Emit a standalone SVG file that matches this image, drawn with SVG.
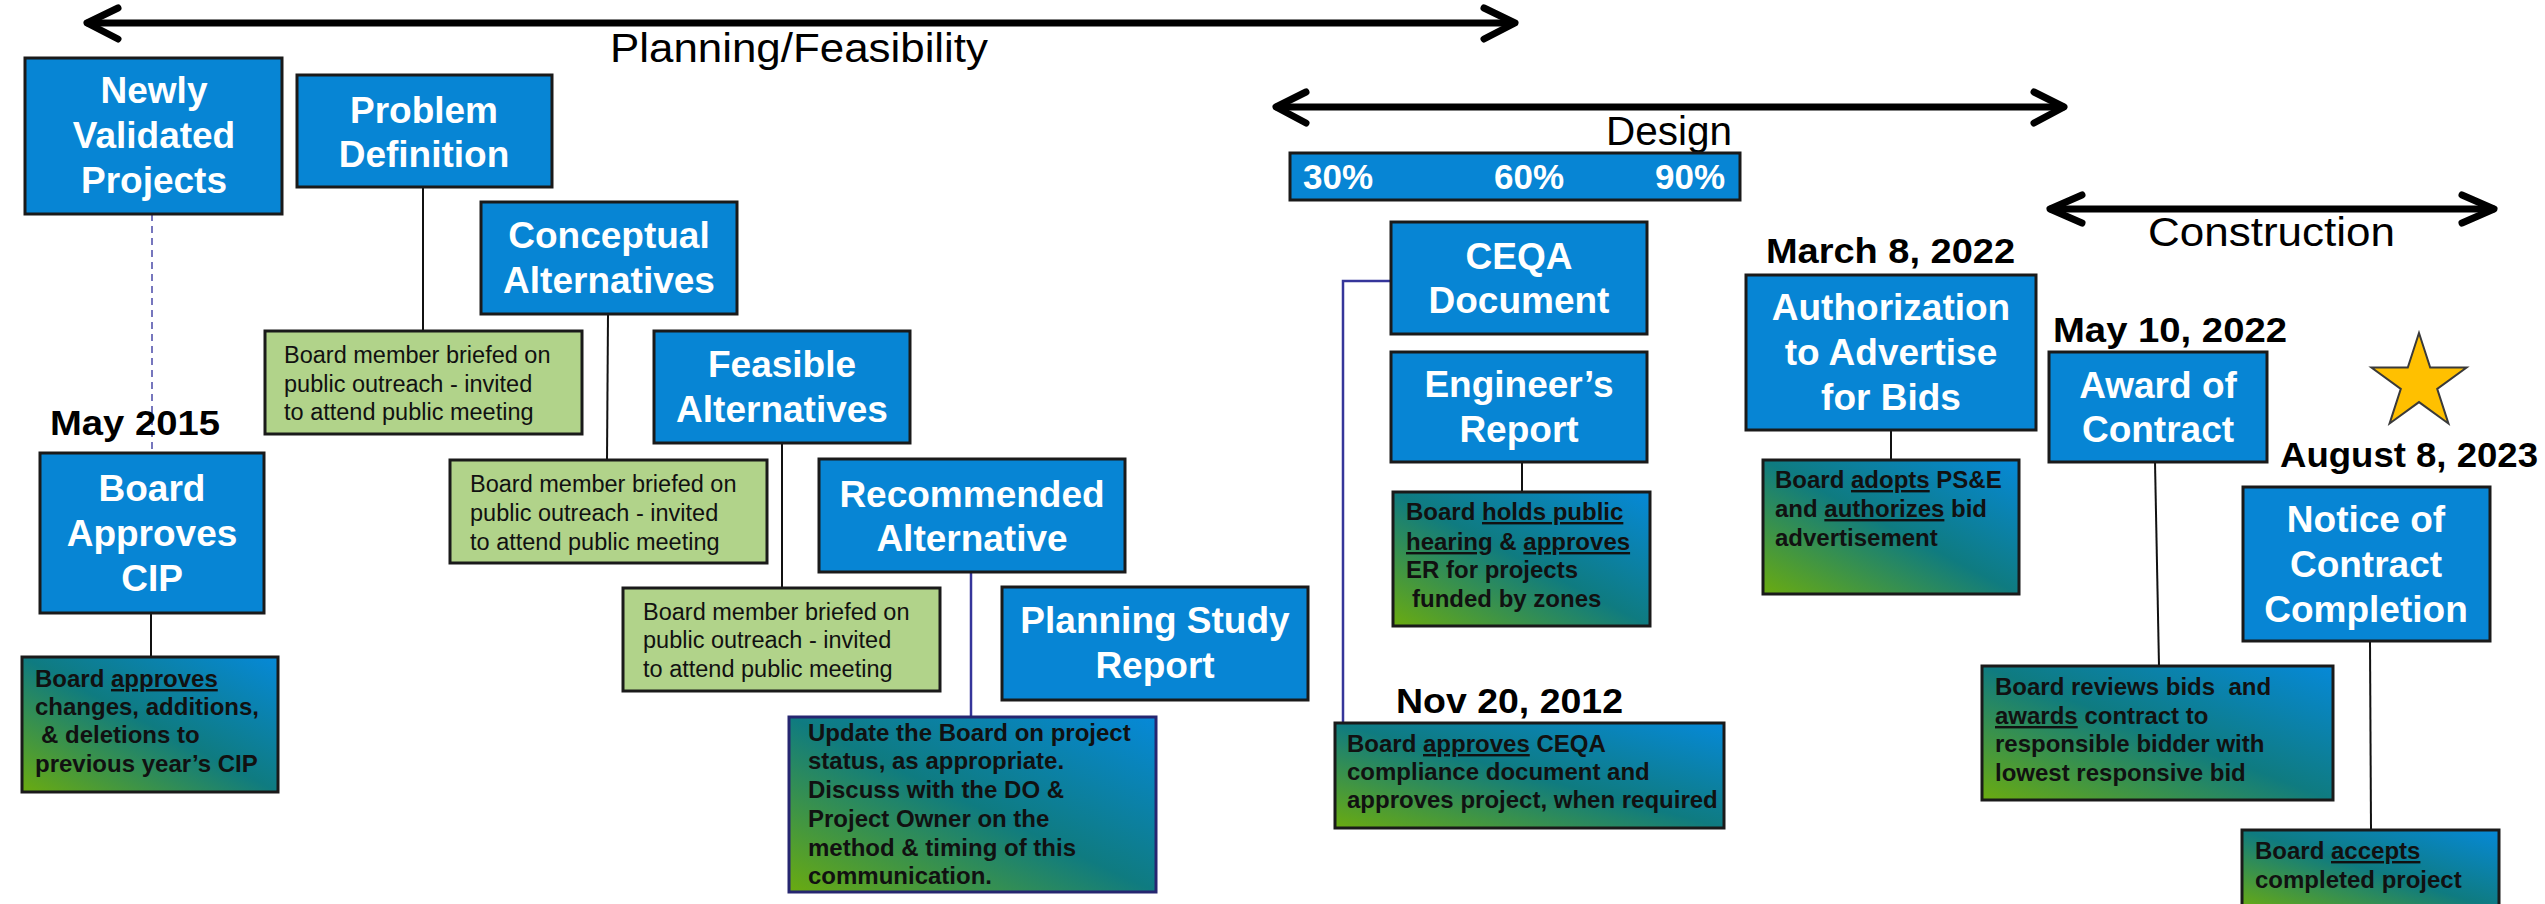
<svg xmlns="http://www.w3.org/2000/svg" width="2545" height="904" viewBox="0 0 2545 904">
<defs>
<linearGradient id="gr" x1="0" y1="1" x2="1" y2="0">
<stop offset="0" stop-color="#6aab10"/>
<stop offset="0.5" stop-color="#0f7b80"/>
<stop offset="1" stop-color="#0689d8"/>
</linearGradient>
<style>
.blue{fill:#0785d4;stroke:#1a1a1a;stroke-width:3}
.lg{fill:#b1d38a;stroke:#1a1a1a;stroke-width:3}
.gd{fill:url(#gr);stroke:#1a1a1a;stroke-width:3}
.gdn{fill:url(#gr);stroke:#262670;stroke-width:3}
.t{font-family:"Liberation Sans",Arial,sans-serif;font-weight:bold;font-size:37px;fill:#fff;text-anchor:middle}
.s{font-family:"Liberation Sans",Arial,sans-serif;font-size:23.5px;fill:#111}
.b{font-family:"Liberation Sans",Arial,sans-serif;font-weight:bold;font-size:24px;fill:#111}
.d{font-family:"Liberation Sans",Arial,sans-serif;font-weight:bold;font-size:35px;fill:#000}
.h{font-family:"Liberation Sans",Arial,sans-serif;font-size:41px;fill:#000}
.p{font-family:"Liberation Sans",Arial,sans-serif;font-weight:bold;font-size:35px;fill:#fff}
.ar{fill:none;stroke:#000;stroke-width:7;stroke-linecap:round;stroke-linejoin:round}
.c{fill:none;stroke:#111;stroke-width:2}
.cn{fill:none;stroke:#35359a;stroke-width:2.5}
.u{text-decoration:underline}
</style>
</defs>

<g id="phases">
<line class="ar" x1="88" y1="23" x2="1513" y2="23"/>
<polyline class="ar" points="118,8 87,23 118,39"/>
<polyline class="ar" points="1484,8 1515,23 1484,39"/>
<text class="h" x="610" y="62" textLength="378" lengthAdjust="spacingAndGlyphs">Planning/Feasibility</text>
<line class="ar" x1="1277" y1="107" x2="2063" y2="107"/>
<polyline class="ar" points="1306,92 1276,107 1306,123"/>
<polyline class="ar" points="2034,92 2064,107 2034,123"/>
<text class="h" x="1606" y="145" textLength="126" lengthAdjust="spacingAndGlyphs">Design</text>
<line class="ar" x1="2051" y1="209" x2="2493" y2="209"/>
<polyline class="ar" points="2082,195 2050,209 2082,223"/>
<polyline class="ar" points="2462,195 2494,209 2462,223"/>
<text class="h" x="2148" y="246" textLength="247" lengthAdjust="spacingAndGlyphs">Construction</text>
</g>

<g id="connectors">
<line x1="152" y1="214" x2="152" y2="453" stroke="#4a4aa8" stroke-width="1.5" stroke-dasharray="7,5"/>
<line class="c" x1="423" y1="187" x2="423" y2="331"/>
<line class="c" x1="608" y1="314" x2="607" y2="460"/>
<line class="c" x1="782" y1="443" x2="782" y2="588"/>
<line class="c" x1="151" y1="613" x2="151" y2="657"/>
<line class="cn" x1="971" y1="572" x2="971" y2="717"/>
<polyline class="cn" points="1391,281 1343,281 1343,733"/>
<line class="c" x1="1522" y1="462" x2="1522" y2="492"/>
<line class="c" x1="1891" y1="430" x2="1891" y2="460"/>
<line class="c" x1="2155" y1="462" x2="2159" y2="666"/>
<line class="c" x1="2370" y1="641" x2="2371" y2="830"/>
</g>

<g id="newly">
<rect class="blue" x="25" y="58" width="257" height="156"/>
<text class="t" x="154" y="103">Newly</text>
<text class="t" x="154" y="148">Validated</text>
<text class="t" x="154" y="193">Projects</text>
</g>
<g id="problem">
<rect class="blue" x="297" y="75" width="255" height="112"/>
<text class="t" x="424" y="123">Problem</text>
<text class="t" x="424" y="167">Definition</text>
</g>
<g id="conceptual">
<rect class="blue" x="481" y="202" width="256" height="112"/>
<text class="t" x="609" y="248">Conceptual</text>
<text class="t" x="609" y="293">Alternatives</text>
</g>
<g id="feasible">
<rect class="blue" x="654" y="331" width="256" height="112"/>
<text class="t" x="782" y="377">Feasible</text>
<text class="t" x="782" y="422">Alternatives</text>
</g>
<g id="cip">
<text class="d" x="50" y="435" textLength="170" lengthAdjust="spacingAndGlyphs">May 2015</text>
<rect class="blue" x="40" y="453" width="224" height="160"/>
<text class="t" x="152" y="501">Board</text>
<text class="t" x="152" y="546">Approves</text>
<text class="t" x="152" y="591">CIP</text>
</g>
<g id="recommended">
<rect class="blue" x="819" y="459" width="306" height="113"/>
<text class="t" x="972" y="507">Recommended</text>
<text class="t" x="972" y="551">Alternative</text>
</g>
<g id="planning-study">
<rect class="blue" x="1002" y="587" width="306" height="113"/>
<text class="t" x="1155" y="633">Planning Study</text>
<text class="t" x="1155" y="678">Report</text>
</g>

<g id="note-problem">
<rect class="lg" x="265" y="331" width="317" height="103"/>
<text class="s" x="284" y="363">Board member briefed on</text>
<text class="s" x="284" y="392">public outreach - invited</text>
<text class="s" x="284" y="420">to attend public meeting</text>
</g>
<g id="note-conceptual">
<rect class="lg" x="450" y="460" width="317" height="103"/>
<text class="s" x="470" y="492">Board member briefed on</text>
<text class="s" x="470" y="521">public outreach - invited</text>
<text class="s" x="470" y="550">to attend public meeting</text>
</g>
<g id="note-feasible">
<rect class="lg" x="623" y="588" width="317" height="103"/>
<text class="s" x="643" y="620">Board member briefed on</text>
<text class="s" x="643" y="648">public outreach - invited</text>
<text class="s" x="643" y="677">to attend public meeting</text>
</g>
<g id="note-cip">
<rect class="gd" x="22" y="657" width="256" height="135"/>
<text class="b" x="35" y="687">Board <tspan class="u">approves</tspan></text>
<text class="b" x="35" y="715">changes, additions,</text>
<text class="b" x="41" y="743">&amp; deletions to</text>
<text class="b" x="35" y="772">previous year’s CIP</text>
</g>
<g id="note-recommended">
<rect class="gdn" x="789" y="717" width="367" height="175"/>
<text class="b" x="808" y="741">Update the Board on project</text>
<text class="b" x="808" y="769">status, as appropriate.</text>
<text class="b" x="808" y="798">Discuss with the DO &amp;</text>
<text class="b" x="808" y="827">Project Owner on the</text>
<text class="b" x="808" y="856">method &amp; timing of this</text>
<text class="b" x="808" y="884">communication.</text>
</g>

<g id="design-bar">
<rect class="blue" x="1290" y="153" width="450" height="47"/>
<text class="p" x="1303" y="189">30%</text>
<text class="p" x="1494" y="189">60%</text>
<text class="p" x="1655" y="189">90%</text>
</g>
<g id="ceqa">
<rect class="blue" x="1391" y="222" width="256" height="112"/>
<text class="t" x="1519" y="269">CEQA</text>
<text class="t" x="1519" y="313">Document</text>
</g>
<g id="engineers">
<rect class="blue" x="1391" y="352" width="256" height="110"/>
<text class="t" x="1519" y="397">Engineer’s</text>
<text class="t" x="1519" y="442">Report</text>
</g>
<g id="note-engineers">
<rect class="gd" x="1393" y="492" width="257" height="134"/>
<text class="b" x="1406" y="520">Board <tspan class="u">holds public </tspan></text>
<text class="b" x="1406" y="550"><tspan class="u">hearing</tspan> &amp; <tspan class="u">approves</tspan></text>
<text class="b" x="1406" y="578">ER for projects</text>
<text class="b" x="1412" y="607">funded by zones</text>
</g>
<g id="note-ceqa">
<text class="d" x="1396" y="713" textLength="227" lengthAdjust="spacingAndGlyphs">Nov 20, 2012</text>
<rect class="gd" x="1335" y="723" width="389" height="105"/>
<text class="b" x="1347" y="752">Board <tspan class="u">approves</tspan> CEQA</text>
<text class="b" x="1347" y="780">compliance document and</text>
<text class="b" x="1347" y="808">approves project, when required</text>
</g>
<g id="authorization">
<text class="d" x="1766" y="263" textLength="249" lengthAdjust="spacingAndGlyphs">March 8, 2022</text>
<rect class="blue" x="1746" y="275" width="290" height="155"/>
<text class="t" x="1891" y="320">Authorization</text>
<text class="t" x="1891" y="365">to Advertise</text>
<text class="t" x="1891" y="410">for Bids</text>
</g>
<g id="note-authorization">
<rect class="gd" x="1763" y="460" width="256" height="134"/>
<text class="b" x="1775" y="488">Board <tspan class="u">adopts</tspan> PS&amp;E</text>
<text class="b" x="1775" y="517">and <tspan class="u">authorizes</tspan> bid</text>
<text class="b" x="1775" y="546">advertisement</text>
</g>
<g id="award">
<text class="d" x="2053" y="342" textLength="234" lengthAdjust="spacingAndGlyphs">May 10, 2022</text>
<rect class="blue" x="2049" y="352" width="218" height="110"/>
<text class="t" x="2158" y="398">Award of</text>
<text class="t" x="2158" y="442">Contract</text>
</g>
<g id="note-award">
<rect class="gd" x="1982" y="666" width="351" height="134"/>
<text class="b" x="1995" y="695" xml:space="preserve">Board reviews bids  and</text>
<text class="b" x="1995" y="724"><tspan class="u">awards</tspan> contract to</text>
<text class="b" x="1995" y="752">responsible bidder with</text>
<text class="b" x="1995" y="781">lowest responsive bid</text>
</g>
<g id="star">
<polygon points="2419,333 2430.2,367.5 2466.6,367.5 2437.2,388.9 2448.4,423.5 2419,402.1 2389.6,423.5 2400.8,388.9 2371.4,367.5 2407.8,367.5" fill="#ffc000" stroke="#3a3a3a" stroke-width="2"/>
</g>
<g id="notice">
<text class="d" x="2280" y="467" textLength="258" lengthAdjust="spacingAndGlyphs">August 8, 2023</text>
<rect class="blue" x="2243" y="487" width="247" height="154"/>
<text class="t" x="2366" y="532">Notice of</text>
<text class="t" x="2366" y="577">Contract</text>
<text class="t" x="2366" y="622">Completion</text>
</g>
<g id="note-notice">
<rect class="gd" x="2242" y="830" width="257" height="80"/>
<text class="b" x="2255" y="859">Board <tspan class="u">accepts</tspan></text>
<text class="b" x="2255" y="888">completed project</text>
</g>
</svg>
